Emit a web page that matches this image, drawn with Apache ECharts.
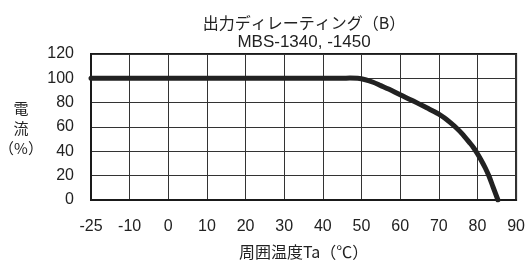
<!DOCTYPE html>
<html>
<head>
<meta charset="utf-8">
<script src="https://cdn.jsdelivr.net/npm/echarts@6/dist/echarts.min.js"></script>
<style>
  html, body { margin: 0; padding: 0; background: #fff; }
  #main { width: 528px; height: 265px; }
</style>
</head>
<body>
<div id="main"></div>
<script>
// 周囲温度 (℃) と 出力電流 (%) — 図から読み取った値
var temps    = [-25, 45, 47, 49, 51, 53, 55, 57, 60, 63, 65, 67, 68.5, 70, 71.5, 73, 74.5, 76, 78, 79, 80, 81, 82, 83, 84, 85.3];
var currents = [100, 100, 100.2, 100, 98.8, 96.8, 94, 91.2, 86.5, 82, 78.8, 75.6, 73.2, 70.6, 67.4, 63.6, 59.4, 54.6, 47, 43, 38, 32.5, 26.5, 19.5, 11, 0];
// 横軸の目盛ラベル（-25 と -10 の間だけ間隔が詰めてある）
var xTickLabels = ['-25', '-10', '0', '10', '20', '30', '40', '50', '60', '70', '80', '90'];
var yTicks = [0, 20, 40, 60, 80, 100, 120];

var FONT = '"Liberation Sans", "Noto Sans CJK JP", sans-serif';
var CJK = '"Noto Sans CJK JP", "Liberation Sans", sans-serif';

// -25..-10 の区間は 15℃ を 1 目盛に詰めて描く
function tempToAxis(t) {
    return t < -10 ? -10 + (t + 10) * 10 / 15 : t;
}

var lineData = temps.map(function (t, i) {
    return [tempToAxis(t), currents[i]];
});

var myChart = echarts.init(document.getElementById('main'), null, {renderer: 'canvas'});

var option = {
    animation: false,
    backgroundColor: '#fff',
    title: {
        text: '出力ディレーティング（B）',
        subtext: 'MBS-1340, -1450',
        left: 299,
        top: 10,
        textAlign: 'center',
        itemGap: 3,
        textStyle: {fontFamily: CJK, fontSize: 16, fontWeight: 'normal', color: '#222'},
        subtextStyle: {fontFamily: FONT, fontSize: 17, color: '#222'}
    },
    grid: {
        left: 91, right: 11, top: 54, bottom: 62,
        show: true, borderColor: '#1a1a1a', borderWidth: 2
    },
    xAxis: {
        type: 'value',
        min: -20, max: 90, interval: 10,
        name: '周囲温度Ta（℃）',
        nameLocation: 'middle',
        nameGap: 44,
        nameTextStyle: {fontFamily: CJK, fontSize: 16, color: '#222'},
        axisLine: {show: true, onZero: false, lineStyle: {color: '#1a1a1a', width: 2}},
        axisTick: {show: false},
        axisLabel: {
            margin: 19,
            fontFamily: FONT, fontSize: 16, color: '#222',
            formatter: function (v) {
                return xTickLabels[Math.round((v + 20) / 10)];
            }
        },
        splitLine: {show: true, lineStyle: {color: '#333', width: 1}}
    },
    yAxis: {
        type: 'value',
        min: yTicks[0], max: yTicks[yTicks.length - 1], interval: 20,
        axisLine: {show: true, onZero: false, lineStyle: {color: '#1a1a1a', width: 2}},
        axisTick: {show: false},
        axisLabel: {margin: 17, fontFamily: FONT, fontSize: 16, color: '#222'},
        splitLine: {show: true, lineStyle: {color: '#333', width: 1}}
    },
    graphic: [{
        type: 'text',
        x: 21, y: 98,
        style: {
            text: '電\n流\n（%）',
            font: '15px ' + CJK,
            fill: '#222',
            lineHeight: 20,
            align: 'center',
            verticalAlign: 'top'
        }
    }],
    series: [{
        type: 'line',
        data: lineData,
        symbol: 'none',
        smooth: 0.3,
        lineStyle: {color: '#222', width: 5, cap: 'round', join: 'round'}
    }]
};

myChart.setOption(option);
</script>
</body>
</html>
